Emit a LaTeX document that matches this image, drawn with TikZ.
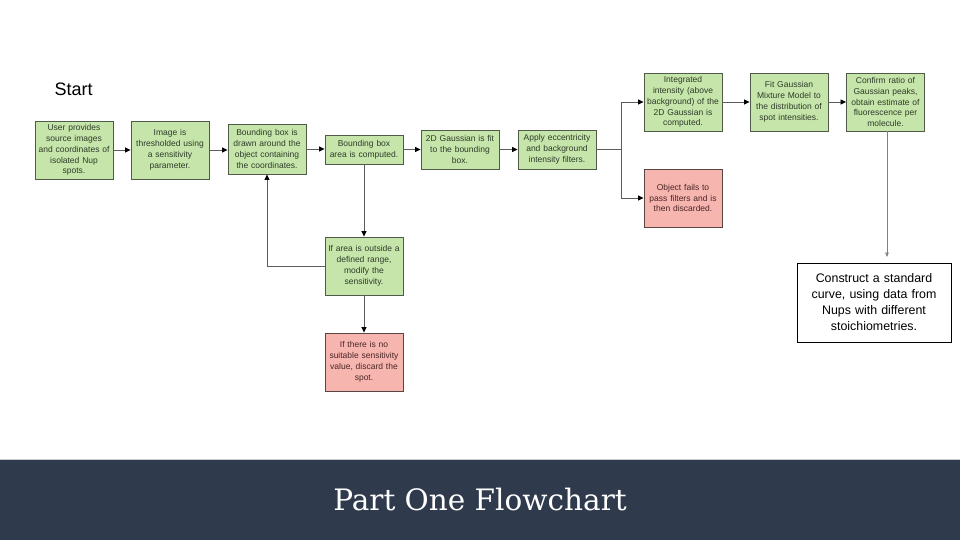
\documentclass[tikz,border=0pt]{standalone}
\usepackage{fontspec}
\setmainfont{Liberation Sans}
\newfontfamily\titlefont{DejaVu Serif}
\usetikzlibrary{arrows.meta}
\definecolor{gfill}{HTML}{C6E5AA}
\definecolor{gborder}{HTML}{4F5B48}
\definecolor{rfill}{HTML}{F6B5AF}
\definecolor{rborder}{HTML}{5A4545}
\definecolor{gtext}{HTML}{2E3B2A}
\definecolor{rtext}{HTML}{4A2525}
\definecolor{banner}{HTML}{2F3A4D}
\definecolor{linec}{HTML}{5C5C5C}
\begin{document}
\begin{tikzpicture}[x=1pt,y=-1pt,
 gbox/.style={draw=gborder, fill=gfill, line width=0.9pt, text=gtext, text width=74pt, inner xsep=2pt, inner ysep=1pt, align=center, font=\fontsize{8.5}{10.9}\selectfont},
 rbox/.style={gbox, fill=rfill, draw=rborder, text=rtext},
 conn/.style={draw=linec, line width=0.8pt, -{Triangle[length=5.5pt,width=5pt,color=black]}},
 plain/.style={draw=linec, line width=0.8pt},
 thinconn/.style={draw=gray, line width=0.6pt, -{Triangle[length=4.5pt,width=3.5pt]}}
]
\useasboundingbox (0,0) rectangle (960,540);
\fill[white] (0,0) rectangle (960,540);

\node[font=\fontsize{18}{21}\selectfont, anchor=west, inner sep=0pt] (start) at (54.5,89.5) {Start};

\node[gbox, minimum height=58pt] (b1) at (74,150) {User provides\\source images\\and coordinates of\\isolated Nup\\spots.};
\node[gbox, minimum height=58pt] (b2) at (170,150) {Image is\\thresholded using\\a sensitivity\\parameter.};
\node[gbox, minimum height=50pt] (b3) at (267,149) {Bounding box is\\drawn around the\\object containing\\the coordinates.};
\node[gbox, minimum height=29pt] (b4) at (364,149.5) {Bounding box\\area is computed.};
\node[gbox, minimum height=39pt] (b5) at (460,149.5) {2D Gaussian is fit\\to the bounding\\box.};
\node[gbox, minimum height=39pt] (b6) at (557,149.5) {Apply eccentricity\\and background\\intensity filters.};
\node[gbox, minimum height=58pt] (b7) at (683,102) {Integrated\\intensity (above\\background) of the\\2D Gaussian is\\computed.};
\node[gbox, minimum height=58pt] (b8) at (789,102) {Fit Gaussian\\Mixture Model to\\the distribution of\\spot intensities.};
\node[gbox, minimum height=58pt] (b9) at (885.5,102) {Confirm ratio of\\Gaussian peaks,\\obtain estimate of\\fluorescence per\\molecule.};
\node[rbox, minimum height=58pt] (r1) at (683,198) {Object fails to\\pass filters and is\\then discarded.};
\node[gbox, minimum height=58pt] (b10) at (364,266) {If area is outside a\\defined range,\\modify the\\sensitivity.};
\node[rbox, minimum height=58pt] (r2) at (364,362) {If there is no\\suitable sensitivity\\value, discard the\\spot.};

\node[draw=black, line width=0.8pt, fill=white, text width=148pt, inner xsep=3pt, minimum height=79pt, align=center, font=\fontsize{12.4}{16}\selectfont, text=black] (w) at (874,302.5) {Construct a standard\\curve, using data from\\Nups with different\\stoichiometries.};

\coordinate (j) at (621,149.5);
\coordinate (t) at (887,257);

\draw[conn] (b1.east) -- (b1.east -| b2.west);
\draw[conn] (b2.east) -- (b2.east -| b3.west);
\draw[conn] (b3.east) -- (b3.east -| b4.west);
\draw[conn] (b4.east) -- (b4.east -| b5.west);
\draw[conn] (b5.east) -- (b5.east -| b6.west);
\draw[plain] (b6.east) -- (j);
\draw[conn] (j) |- (b7.west);
\draw[conn] (j) |- (r1.west);
\draw[conn] (b7.east) -- (b7.east -| b8.west);
\draw[conn] (b8.east) -- (b8.east -| b9.west);
\draw[thinconn] (b9.south -| t) -- (t);
\draw[conn] (b4.south) -- (b10.north);
\draw[conn] (b10.south) -- (r2.north);
\draw[conn] (b10.west) -| (b3.south);

\fill[banner] (0,459) rectangle (960,540);
\draw[color=gray!40, line width=1pt] (0,459) -- (960,459);
\node[text=white, font=\titlefont\fontsize{29.5}{34}\selectfont] (title) at (480,499) {Part One Flowchart};
\end{tikzpicture}
\end{document}
